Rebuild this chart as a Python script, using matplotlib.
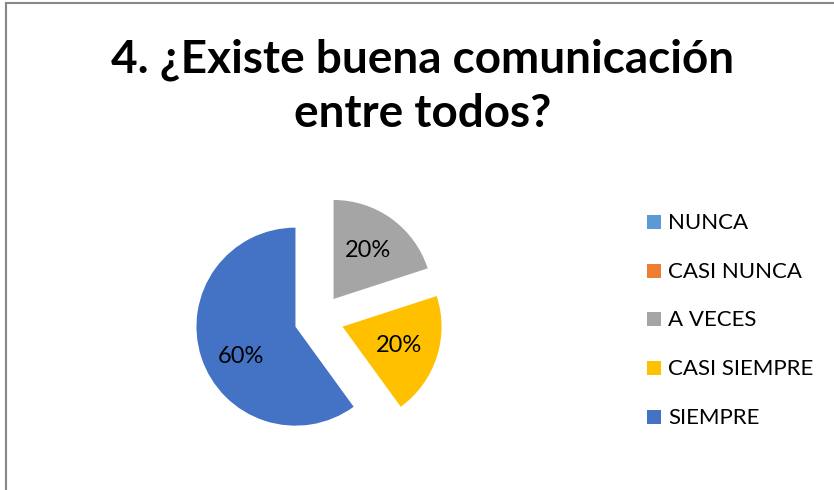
import matplotlib
matplotlib.use("Agg")
import matplotlib.pyplot as plt
import numpy as np
from matplotlib.patches import Rectangle
from matplotlib.lines import Line2D

categories = ["NUNCA", "CASI NUNCA", "A VECES", "CASI SIEMPRE", "SIEMPRE"]
values = [0, 0, 20, 20, 60]
colors = ["#5B9BD5", "#ED7D31", "#A5A5A5", "#FFC000", "#4472C4"]
title = "4. ¿Existe buena comunicación\nentre todos?"

plt.rcParams['font.family'] = ['Lato', 'DejaVu Sans']

W, H = 834, 490
fig = plt.figure(figsize=(W / 100, H / 100), dpi=100)
fig.patch.set_facecolor("white")

# chart border (partial, as in the cropped screenshot)
fig.add_artist(Line2D([5.5 / W, 5.5 / W], [0, 1 - 3 / H], transform=fig.transFigure,
                      color="#888888", lw=1.5))
fig.add_artist(Line2D([5.5 / W, 833 / W], [1 - 3 / H, 1 - 3 / H], transform=fig.transFigure,
                      color="#888888", lw=1.5))

fig.text(423 / W, 1 - 87 / H, title, ha="center", va="center", fontsize=33,
         fontweight="bold", linespacing=1.36, color="#000000")

# pie axes
cx, cy, r, lim = 319, 319, 99, 1.4
side = 2 * lim * r
ax = fig.add_axes([(cx - side / 2) / W, (H - cy - side / 2) / H, side / W, side / H])

explode = [0.25] * len(values)
wedges, texts, autotexts = ax.pie(
    values, colors=colors, explode=explode, startangle=90, counterclock=False,
    autopct=lambda p: f"{p:.0f}%" if p > 0 else "", pctdistance=0.6,
    textprops=dict(fontsize=17, color="#000000"), radius=1, frame=True,
    wedgeprops=dict(linewidth=0))
ax.set_xlim(-lim, lim)
ax.set_ylim(-lim, lim)
ax.set_aspect("equal")
ax.axis("off")

# nudge the large-slice label like the original
big = int(np.argmax(values))
x0, y0 = autotexts[big].get_position()
autotexts[big].set_position((x0 + 0.02, y0 - 0.12))

# legend
lx, ly0, dy = 647, 222, 48.7
for i, (c, lab) in enumerate(zip(colors, categories)):
    y = ly0 + i * dy
    fig.add_artist(Rectangle(((lx) / W, 1 - (y + 7) / H), 14 / W, 14 / H,
                             transform=fig.transFigure, facecolor=c, edgecolor="none"))
    fig.text((lx + 21) / W, 1 - (y + 1) / H, lab, ha="left", va="center", fontsize=16,
             color="#000000")

fig.savefig("out.png", dpi=100, facecolor="white")
